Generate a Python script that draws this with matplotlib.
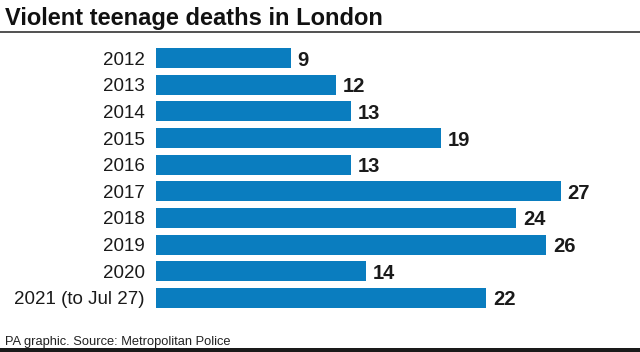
import matplotlib
matplotlib.use("Agg")
import matplotlib.pyplot as plt
from matplotlib.patches import Rectangle

labels = ["2012", "2013", "2014", "2015", "2016", "2017", "2018", "2019", "2020", "2021 (to Jul 27)"]
deaths = [9, 12, 13, 19, 13, 27, 24, 26, 14, 22]

BLUE = "#0a7dbf"
plt.rcParams["font.family"] = ["Liberation Sans", "DejaVu Sans"]

W, H = 640, 352
fig = plt.figure(figsize=(W / 100, H / 100), dpi=100)

# axes placed in pixel units: bars start at x=156, 15 px per death
left, right = 156, 640
top, bottom = 44.7, 311.3
ax = fig.add_axes([left / W, 1 - bottom / H, (right - left) / W, (bottom - top) / H])
ax.barh(range(len(deaths)), deaths, height=0.74, color=BLUE)
ax.set_xlim(0, (right - left) / 15)
ax.set_ylim(len(deaths) - 0.5, -0.5)
ax.set_yticks(range(len(labels)))
ax.set_yticklabels(labels, fontsize=13.5, color="#1a1a1a", va="center_baseline")
ax.tick_params(axis="y", length=0, pad=8)
ax.set_xticks([])
for s in ax.spines.values():
    s.set_visible(False)

for i, v in enumerate(deaths):
    ax.text(v + 0.45, i, str(v), va="center_baseline", ha="left", fontsize=14.5,
            fontweight="bold", color="#1a1a1a")

fig.text(5 / W, 1 - 16 / H, "Violent teenage deaths in London", fontsize=17,
         fontweight="bold", va="center_baseline", ha="left", color="#111111")
fig.add_artist(plt.Line2D([0, 1], [1 - 32 / H, 1 - 32 / H], color="#333333", lw=1.2))

fig.text(5 / W, 1 - 340 / H, "PA graphic. Source: Metropolitan Police", fontsize=9.3,
         va="center_baseline", ha="left", color="#222222")
fig.add_artist(Rectangle((0, 0), 1, 4 / H, transform=fig.transFigure,
                         color="#1a1a1a", lw=0))

fig.savefig("out.png", dpi=100)
